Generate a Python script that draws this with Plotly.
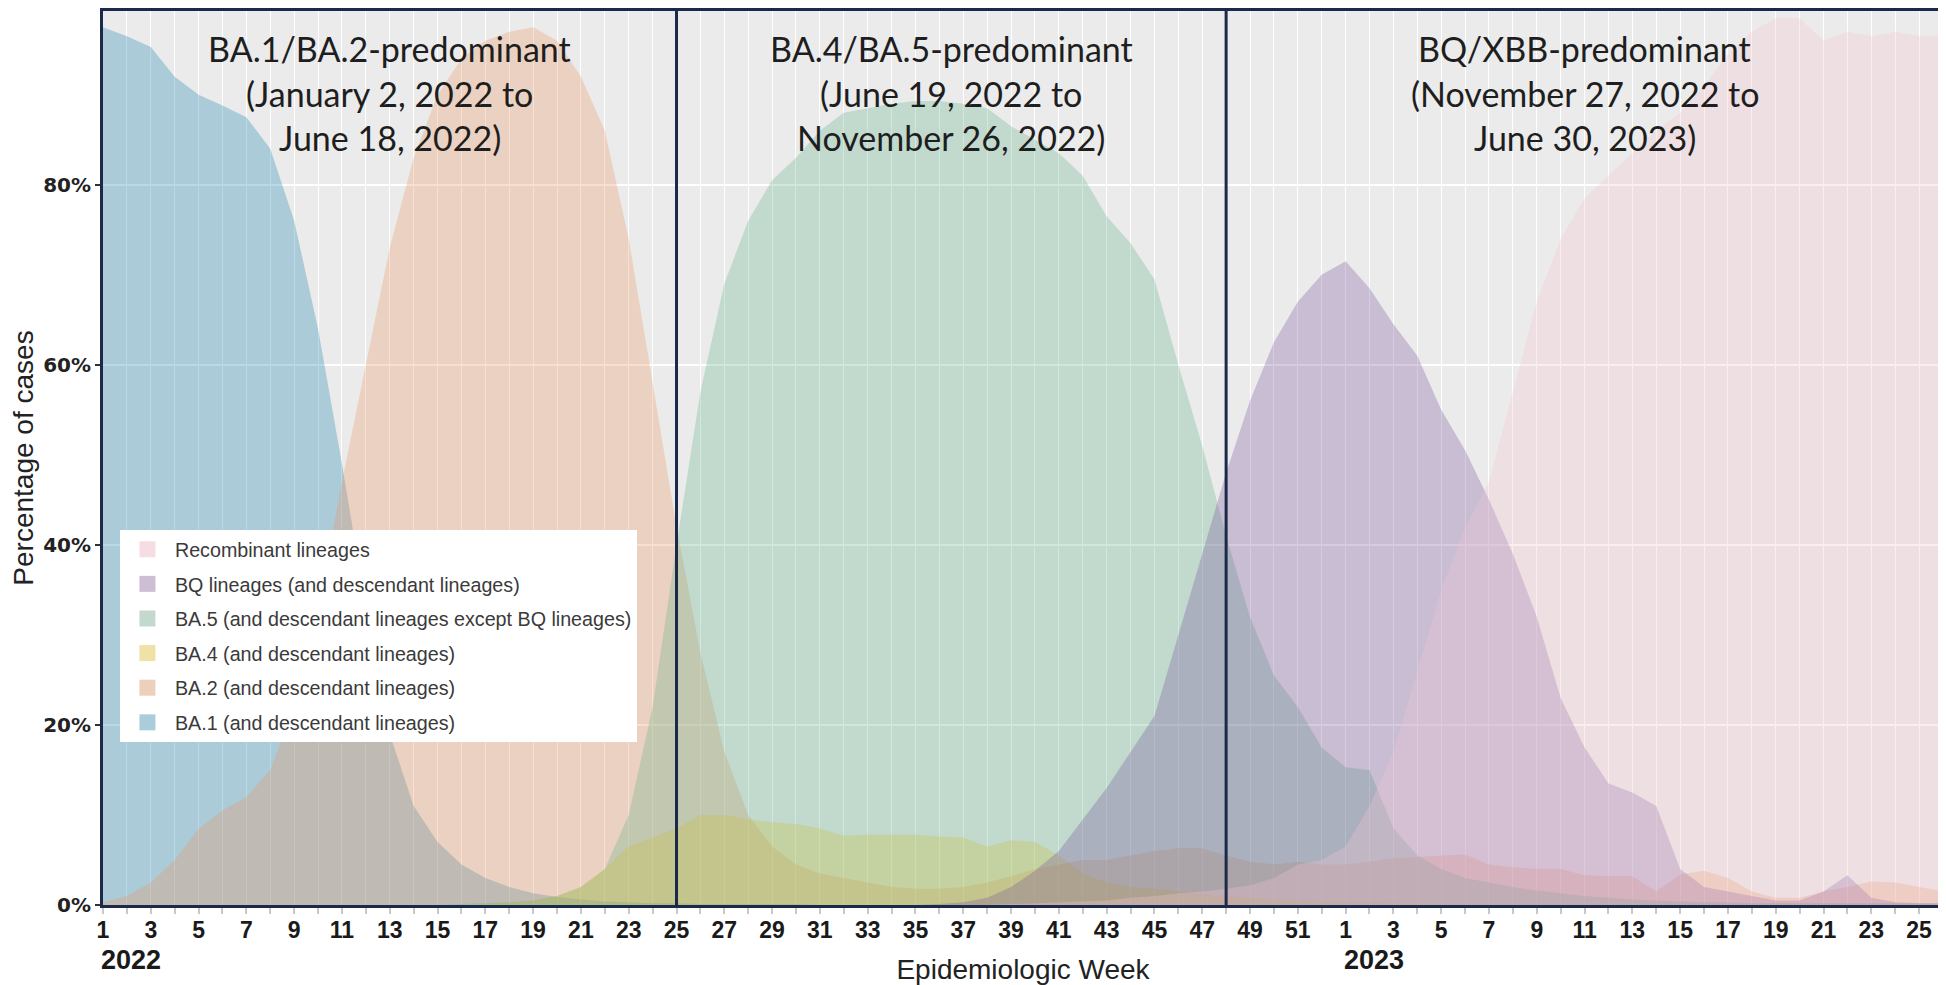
import plotly.graph_objects as go

# ---------------- data ----------------
week_numbers = list(range(1, 53)) + list(range(1, 27))   # 2022 W1..W52, 2023 W1..W26
year_of_week = [2022] * 52 + [2023] * 26

ba1 = [97.5, 96.5, 95.3, 92, 90, 88.8, 87.5, 84, 76, 64, 49, 33, 19, 11, 7, 4.5, 3, 2, 1.3, 0.9,
       0.6, 0.4, 0.3, 0.2, 0.2, 0.1, 0.1, 0.1, 0.1, 0.1, 0, 0, 0, 0, 0, 0, 0, 0, 0, 0,
       0, 0, 0, 0, 0, 0, 0, 0, 0, 0, 0, 0, 0, 0, 0, 0, 0, 0, 0, 0,
       0, 0, 0, 0, 0, 0, 0, 0, 0, 0, 0, 0, 0, 0, 0, 0, 0, 0]
ba2 = [0.3, 1, 2.5, 5, 8.5, 10.5, 12, 15, 22, 33, 47, 60, 73, 83, 90, 94, 96, 97, 97.5, 96,
       92, 86, 74, 58, 42, 28, 17, 10, 6.5, 4.5, 3.5, 3, 2.5, 2, 1.8, 1.8, 2, 2.5, 3.2, 4,
       4.5, 5, 5, 5.5, 6, 6.3, 6.3, 5.5, 4.8, 4.5, 4.8, 4.5, 4.5, 4.8, 5.2, 5.3, 5.5, 5.6, 4.5, 4.2,
       4, 4, 3.3, 3.2, 3.2, 1.5, 3.4, 3.8, 3, 1.5, 0.8, 0.8, 1.5, 2, 2.6, 2.5, 2, 1.5]
ba4 = [0, 0, 0, 0, 0, 0, 0, 0, 0, 0, 0, 0, 0, 0, 0, 0, 0.1, 0.3, 0.5, 1,
       2, 4, 6.5, 7.5, 8.5, 10, 10, 9.5, 9.2, 9, 8.5, 7.7, 7.8, 7.8, 7.8, 7.6, 7.5, 6.5, 7.2, 7,
       5.5, 3.5, 2.5, 2, 1.8, 1.5, 1.2, 1, 0.8, 0.6, 0.5, 0.4, 0.3, 0.3, 0.2, 0.2, 0.1, 0.1, 0.1, 0.1,
       0.1, 0.1, 0.1, 0.1, 0.1, 0.1, 0.1, 0.1, 0.1, 0.1, 0.1, 0.1, 0.1, 0.1, 0.1, 0.1, 0.1, 0.1]
ba5 = [0, 0, 0, 0, 0, 0, 0, 0, 0, 0, 0, 0, 0, 0, 0, 0.1, 0.2, 0.3, 0.5, 1,
       2, 4, 10, 22, 40, 57, 69, 76, 80.5, 83, 86, 88, 88.5, 89, 89.3, 89.3, 89, 88.5, 86.5, 85,
       83.5, 81, 76.5, 73.5, 69.5, 60, 51, 41, 32, 25.5, 22, 17.5, 15.3, 15, 8.5, 5.5, 4, 3, 2.5, 2,
       1.6, 1.3, 1, 0.8, 0.6, 0.5, 0.4, 0.3, 0.3, 0.2, 0.2, 0.2, 0.2, 0.2, 0.2, 0.2, 0.2, 0.2]
bq = [0, 0, 0, 0, 0, 0, 0, 0, 0, 0, 0, 0, 0, 0, 0, 0, 0, 0, 0, 0,
      0, 0, 0, 0, 0, 0, 0, 0, 0, 0, 0, 0, 0, 0, 0, 0.1, 0.3, 0.8, 2, 3.8,
      6, 9.5, 13, 17, 21, 30, 39, 48, 56, 62.5, 67, 70, 71.5, 68.5, 64.5, 61, 55, 50.5, 45, 39,
      32, 23, 17.5, 13.5, 12.5, 11, 4, 2, 1.5, 1, 0.5, 0.5, 1.5, 3.3, 0.8, 0.3, 0.2, 0.2]
recombinant = [0, 0, 0, 0, 0, 0, 0, 0, 0, 0, 0, 0, 0, 0, 0, 0, 0, 0, 0, 0,
               0, 0, 0, 0, 0, 0, 0, 0, 0, 0, 0, 0, 0, 0, 0, 0, 0, 0, 0.1, 0.2,
               0.3, 0.4, 0.5, 0.8, 1, 1.3, 1.5, 1.8, 2.2, 3, 4.5, 5, 6.5, 11, 17, 26, 35, 42, 47, 57,
               67, 74, 78.5, 81, 83.5, 86, 88, 91, 94.5, 97, 98.5, 98.5, 96, 97, 96.5, 97, 96.5, 96.5]

series_names = ["BA.1 (and descendant lineages)",
                "BA.2 (and descendant lineages)",
                "BA.4 (and descendant lineages)",
                "BA.5 (and descendant lineages except BQ lineages)",
                "BQ lineages (and descendant lineages)",
                "Recombinant lineages"]
series_values = [ba1, ba2, ba4, ba5, bq, recombinant]
fill_rgb = [(25, 128, 172), (235, 150, 95), (245, 200, 30),
            (100, 175, 135), (120, 82, 155), (245, 195, 208)]
swatch_colors = ["#a9cddb", "#edcfbb", "#f0e1a6", "#c3d9cd", "#cdbdd5", "#f6dde3"]

period_titles = [["BA.1/BA.2-predominant", "(January 2, 2022 to", "June 18, 2022)"],
                 ["BA.4/BA.5-predominant", "(June 19, 2022 to", "November 26, 2022)"],
                 ["BQ/XBB-predominant", "(November 27, 2022 to", "June 30, 2023)"]]
period_start_weeks = [(2022, 1), (2022, 25), (2022, 48)]

y_tick_values = [0, 20, 40, 60, 80]
y_tick_labels = ["0%", "20%", "40%", "60%", "80%"]

# ---------------- derived positions ----------------
n = len(week_numbers)
x_pos = list(range(n))
keys = list(zip(year_of_week, week_numbers))
starts = [keys.index(k) for k in period_start_weeks]
bounds = starts + [n - 1]
tick_text = [str(w) if i % 2 == 0 else "" for i, w in enumerate(week_numbers)]

NAVY = "#1b2a4a"
fig = go.Figure()

# legend proxies (top to bottom: Recombinant ... BA.1)
for name, col in reversed(list(zip(series_names, swatch_colors))):
    fig.add_trace(go.Scatter(x=[None], y=[None], mode="markers", name=name,
                             legendgroup=name, showlegend=True,
                             marker=dict(symbol="square", size=16, color=col,
                                         line=dict(width=0))))

for name, vals, rgb in zip(series_names, series_values, fill_rgb):
    fig.add_trace(go.Scatter(x=x_pos, y=vals, mode="lines", name=name,
                             legendgroup=name, showlegend=False,
                             line=dict(width=0, color="rgba(%d,%d,%d,0.3)" % rgb),
                             fill="tozeroy",
                             fillcolor="rgba(%d,%d,%d,0.3)" % rgb,
                             hoverinfo="x+y+name"))

# period boundary lines
for s in starts[1:]:
    fig.add_shape(type="line", x0=s, x1=s, y0=0, y1=1, xref="x", yref="paper",
                  line=dict(color=NAVY, width=3), layer="above")

# period titles
title_y = [0.9575, 0.9075, 0.859]
for k, lines in enumerate(period_titles):
    cx = (bounds[k] + bounds[k + 1]) / 2
    for line_text, yy in zip(lines, title_y):
        fig.add_annotation(x=cx, y=yy, xref="x", yref="paper", text=line_text,
                           showarrow=False, xanchor="center", yanchor="middle",
                           font=dict(family="Lato, Open Sans, sans-serif", size=34,
                                     color="#1e1e1e"))

# year labels
for yr in sorted(set(year_of_week)):
    xi = year_of_week.index(yr)
    fig.add_annotation(x=xi, y=-0.062, xref="x", yref="paper", text=str(yr),
                       showarrow=False, xanchor="left", yanchor="middle", xshift=-4,
                       font=dict(family="Liberation Sans Narrow, Arial Narrow, Liberation Sans, Arial",
                                 size=27, color="#1a1a1a", weight="bold"))

fig.update_layout(
    width=1938, height=977,
    margin=dict(l=95, r=0, t=2, b=80),
    paper_bgcolor="white", plot_bgcolor="#ebebeb",
    showlegend=True,
    legend=dict(x=0.0092, y=0.4195, xanchor="left", yanchor="top",
                bgcolor="white", borderwidth=0, traceorder="grouped",
                tracegroupgap=6, itemwidth=45,
                font=dict(family="Liberation Sans, Arial, sans-serif", size=19.7,
                          color="#3a3a3a")),
    xaxis=dict(range=[0, n - 1], tickmode="array", tickvals=x_pos, ticktext=tick_text,
               showgrid=True, gridcolor="white", gridwidth=1, zeroline=False,
               ticks="outside", ticklen=6, tickwidth=1.5, tickcolor="#c8c8c8",
               ticklabelstandoff=-4,
               showline=True, linecolor=NAVY, linewidth=3, mirror=True,
               tickfont=dict(family="Liberation Sans Narrow, Arial Narrow, Liberation Sans, Arial",
                             size=23, color="#1a1a1a", weight="bold"),
               title=dict(text="Epidemiologic Week", standoff=20,
                          font=dict(family="Liberation Sans, Arial, sans-serif", size=28,
                                    color="#222222"))),
    yaxis=dict(range=[0, 99.3], tickmode="array", tickvals=y_tick_values,
               ticktext=y_tick_labels, showgrid=True, gridcolor="white", gridwidth=1.5,
               zeroline=False, ticks="outside", ticklen=5, tickwidth=1.5, tickcolor="#333333",
               showline=True, linecolor=NAVY, linewidth=3, mirror=True,
               tickfont=dict(family="DejaVu Sans, Verdana, sans-serif", size=20,
                             color="#222222", weight="bold"),
               title=dict(text="Percentage of cases", standoff=2,
                          font=dict(family="Liberation Sans, Arial, sans-serif", size=28,
                                    color="#222222"))),
)

fig.write_html("out.html")
